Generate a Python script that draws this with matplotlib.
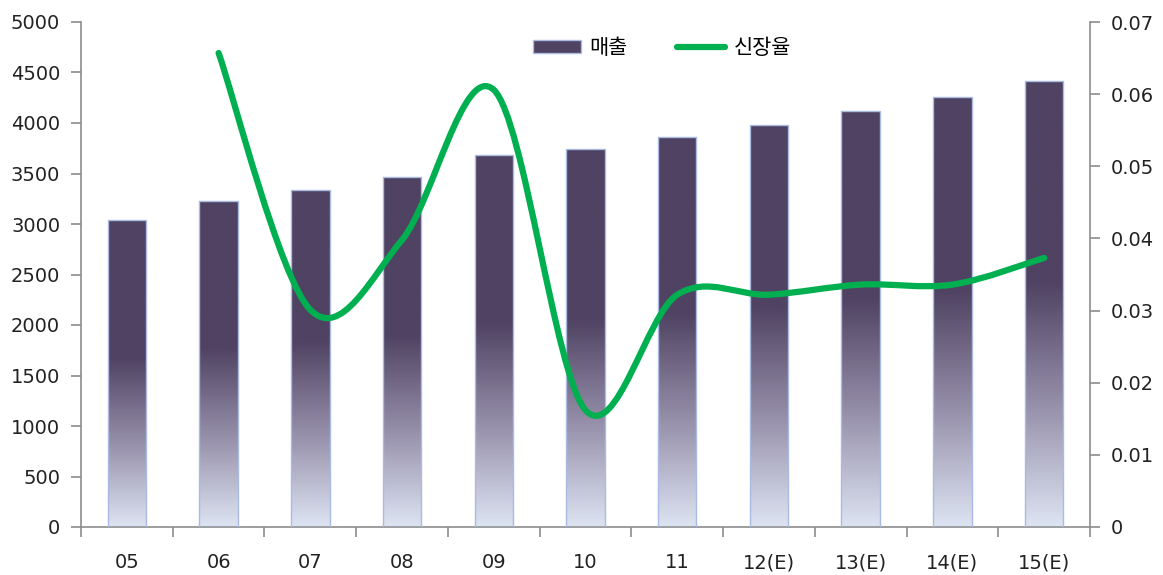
import numpy as np
import matplotlib
matplotlib.use("Agg")
import matplotlib.pyplot as plt
from matplotlib.colors import LinearSegmentedColormap
from matplotlib.patches import Rectangle, PathPatch
from matplotlib.path import Path
from matplotlib.lines import Line2D

plt.rcParams['font.family'] = ['DejaVu Sans', 'Noto Sans CJK KR']

# data
years = ['05', '06', '07', '08', '09', '10', '11', '12(E)', '13(E)', '14(E)', '15(E)']
sales = [3040, 3230, 3340, 3465, 3685, 3745, 3860, 3980, 4120, 4255, 4415]
growth_years = ['06', '07', '08', '09', '10', '11', '12(E)', '13(E)', '14(E)', '15(E)']
growth = [0.0657, 0.0301, 0.0398, 0.0606, 0.0162, 0.0322, 0.0322, 0.0336, 0.0336, 0.0373]

dark = '#4f4262'
green = '#00b050'
axis_grey = '#8c8c8c'

fig = plt.figure(figsize=(11.63, 5.75), dpi=100)
ax = fig.add_axes([81 / 1163, 48 / 575, 1009 / 1163, 505 / 575])
ax2 = ax.twinx()

# bars with a vertical gradient (light at the bottom, dark from ~55% up)
cmap = LinearSegmentedColormap.from_list(
    'bar', [(0.0, '#dde4f2'), (0.25, '#9c96b0'), (0.55, dark), (1.0, dark)])
grad = np.linspace(0, 1, 256).reshape(-1, 1)
width = 0.42
xs = np.arange(len(years))
for x, h in zip(xs, sales):
    im = ax.imshow(grad, cmap=cmap, origin='lower', aspect='auto',
                   extent=(x - width / 2, x + width / 2, 0, h), zorder=2)
    edge = Rectangle((x - width / 2, 0), width, h, fill=False,
                     edgecolor='#a9bbe0', lw=1.0, zorder=3)
    ax.add_patch(edge)
    im.set_clip_path(edge)

ax.set_xlim(-0.5, len(years) - 0.5)
ax.set_ylim(0, 5000)
ax.set_yticks(np.arange(0, 5001, 500))

# smoothed growth line (Catmull-Rom style bezier, like Excel's smoothed line)
gx = np.array([years.index(y) for y in growth_years], dtype=float)
gy = np.array(growth)
pts = np.column_stack([gx, gy])
verts = [pts[0]]
codes = [Path.MOVETO]
n = len(pts)
for i in range(n - 1):
    p0 = pts[i - 1] if i > 0 else pts[i]
    p1 = pts[i]
    p2 = pts[i + 1]
    p3 = pts[i + 2] if i + 2 < n else pts[i + 1]
    c1 = p1 + (p2 - p0) / 6
    c2 = p2 - (p3 - p1) / 6
    verts += [c1, c2, p2]
    codes += [Path.CURVE4] * 3
ax2.add_patch(PathPatch(Path(verts, codes), fill=False, edgecolor=green,
                        lw=4.5, capstyle='round', joinstyle='round', zorder=4))
ax2.set_ylim(0, 0.07)
ax2.set_yticks(np.arange(0, 0.071, 0.01))
ax2.set_yticklabels(['0'] + [f'{v:.2f}' for v in np.arange(0.01, 0.071, 0.01)])

# axes styling
for a in (ax, ax2):
    a.spines['top'].set_visible(False)
    for s in ('left', 'right', 'bottom'):
        a.spines[s].set_color(axis_grey)
        a.spines[s].set_linewidth(1.2)
ax.spines['right'].set_visible(False)
ax2.spines['left'].set_visible(False)
ax2.spines['bottom'].set_visible(False)

ax.set_xticks(np.arange(-0.5, len(years), 1.0))
ax.set_xticklabels([])
ax.set_xticks(xs, minor=True)
ax.set_xticklabels(years, minor=True)
ax.tick_params(axis='x', which='major', length=7, width=1.2, color=axis_grey, direction='out')
ax.tick_params(axis='x', which='minor', length=0, pad=19, labelsize=14, labelcolor='#222222')
ax.tick_params(axis='y', length=7, width=1.2, color=axis_grey, pad=8, labelsize=14,
               labelcolor='#222222')
ax2.tick_params(axis='y', length=7, width=1.2, color=axis_grey, pad=8, labelsize=14,
                labelcolor='#222222')

handles = [Rectangle((0, 0), 1, 1, facecolor=dark, edgecolor='#a9bbe0', lw=1.0),
           Line2D([0], [0], color=green, lw=4.5, solid_capstyle='round')]
fig.legend(handles, ['매출', '신장율'], loc='center', bbox_to_anchor=(662 / 1163, 1 - 48 / 575),
           ncol=2, frameon=False, handlelength=2.3, handleheight=0.6,
           handletextpad=0.4, columnspacing=2.4, prop={'family': ['Noto Sans CJK KR'], 'size': 15})

fig.savefig('out.png', dpi=100)
